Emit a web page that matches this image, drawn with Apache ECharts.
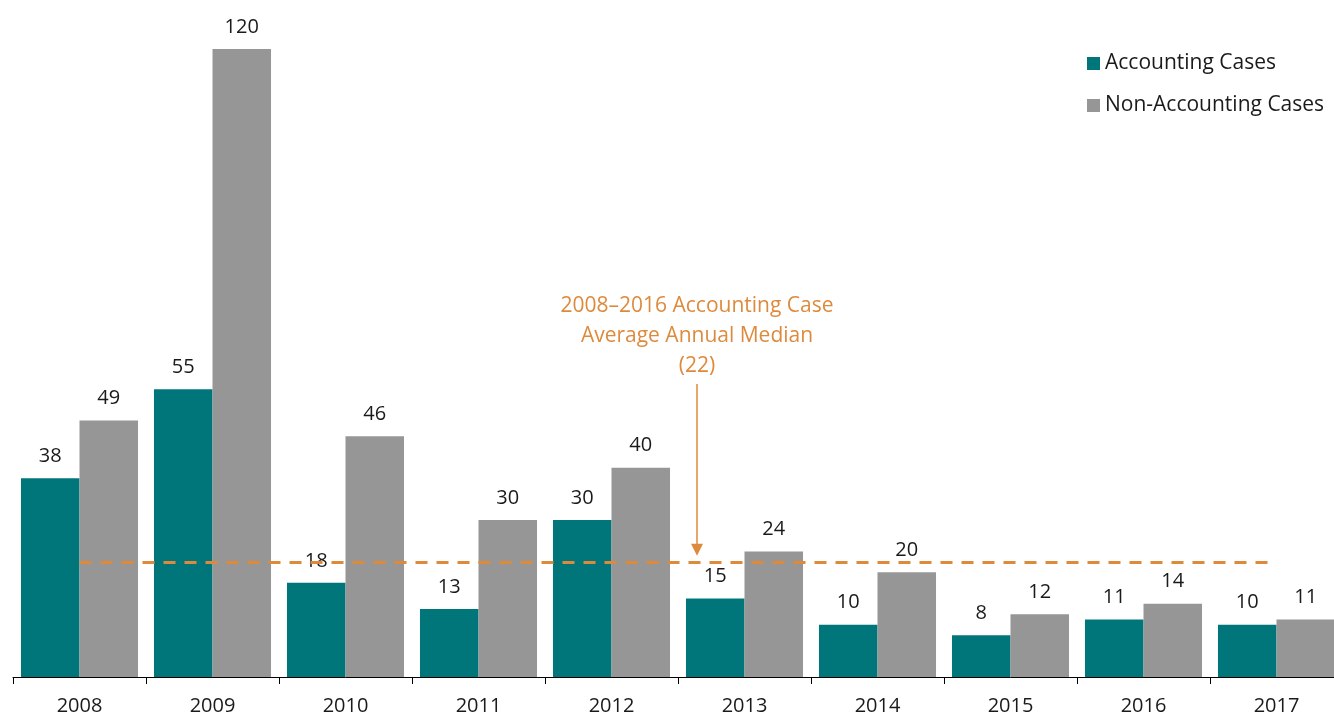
<!DOCTYPE html>
<html><head><meta charset="utf-8">
<script src="https://cdn.jsdelivr.net/npm/echarts@6/dist/echarts.min.js"></script>
<style>html,body{margin:0;padding:0;background:#fff;overflow:hidden}#c{width:1345px;height:717px}</style>
</head><body><div id="c"></div>
<script>
var years = ['2008','2009','2010','2011','2012','2013','2014','2015','2016','2017'];
var accounting = [38,55,18,13,30,15,10,8,11,10];
var nonAccounting = [49,120,46,30,40,24,20,12,14,11];
var medianValue = 22;
var annotationLines = ['2008\u20132016 Accounting Case','Average Annual Median','(22)'];

var FONT = 'Open Sans';
var FS = 20;
var FT = 21;
var ORANGE = '#DE8A3C';
var chart = echarts.init(document.getElementById('c'));
var lbl = {show:true, position:'top', distance:12, color:'#1a1a1a', fontFamily:FONT, fontSize:FS};
chart.setOption({
  animation:false,
  grid:{left:13, right:2, top:49, bottom:40, containLabel:false},
  legend:{orient:'vertical', left:1082, top:48, icon:'rect', itemWidth:13, itemHeight:13, itemGap:21,
    textStyle:{fontFamily:FONT, fontSize:FT, color:'#1a1a1a'},
    data:['Accounting Cases','Non-Accounting Cases']},
  xAxis:{type:'category', data:years,
    axisLine:{lineStyle:{color:'#000', width:1}},
    axisTick:{show:true, length:7, lineStyle:{color:'#000'}},
    axisLabel:{color:'#1a1a1a', fontFamily:FONT, fontSize:FS, margin:19}},
  yAxis:{type:'value', min:0, max:120, show:false, splitLine:{show:false}},
  series:[
    {name:'Accounting Cases', type:'bar', data:accounting, barGap:'0%', barCategoryGap:'12%',
     itemStyle:{color:'#00767A'}, label:lbl},
    {name:'Non-Accounting Cases', type:'bar', data:nonAccounting,
     itemStyle:{color:'#969696'}, label:lbl},
    {name:'median', type:'line', data:[], silent:true,
     markLine:{silent:true, symbol:['none','none'], label:{show:false},
       lineStyle:{color:ORANGE, type:[12,9], width:3},
       data:[[{coord:[years[0], medianValue]},{coord:[years[years.length-1], medianValue]}]]}}
  ]
});
var yMed = chart.convertToPixel({yAxisIndex:0}, medianValue);
var ax = 697;
chart.setOption({graphic:[
  {type:'text', x:ax, y:291, style:{text:annotationLines.join('\n'), fill:ORANGE, font:FT+'px "'+FONT+'"', textAlign:'center', lineHeight:30}},
  {type:'line', shape:{x1:ax, y1:384, x2:ax, y2:yMed-16}, style:{stroke:ORANGE, lineWidth:1.5}},
  {type:'polygon', shape:{points:[[ax-6,yMed-18],[ax+6,yMed-18],[ax,yMed-6]]}, style:{fill:ORANGE}}
]});
</script></body></html>
